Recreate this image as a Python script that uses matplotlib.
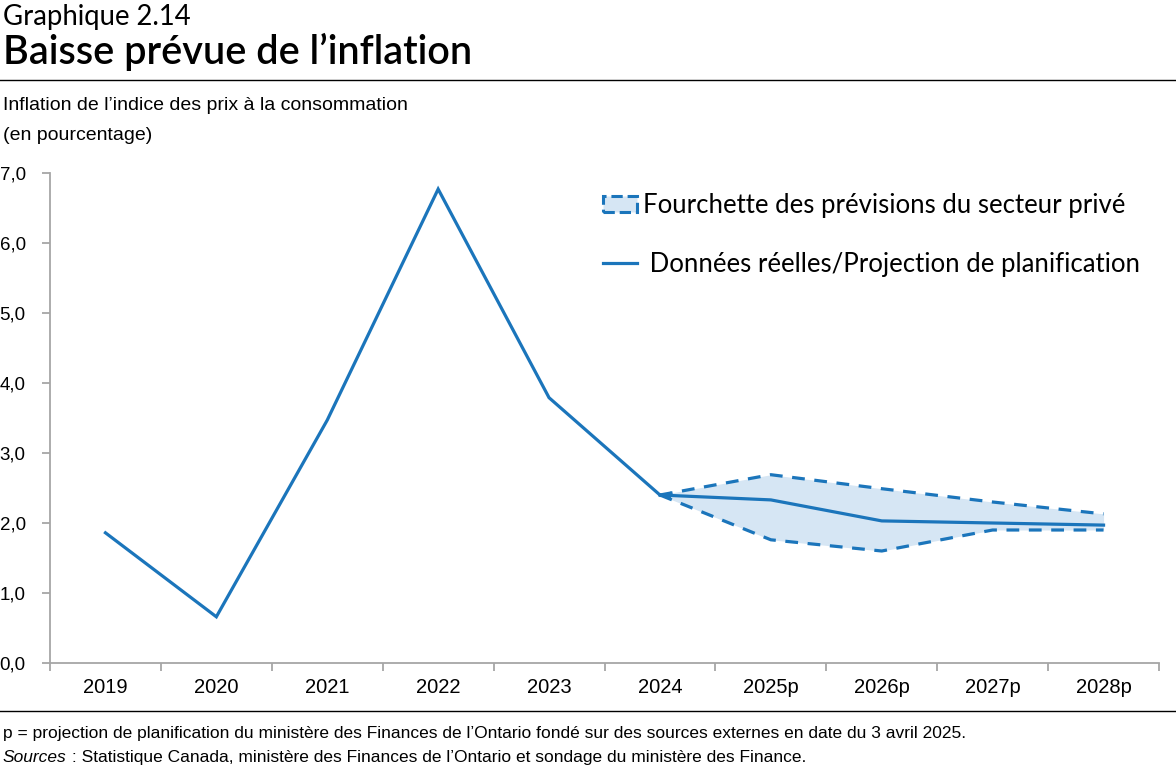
import matplotlib.pyplot as plt
from matplotlib.patches import Patch
from matplotlib.lines import Line2D

# données
annees = ['2019', '2020', '2021', '2022', '2023', '2024', '2025p', '2026p', '2027p', '2028p']
reel = [1.86, 0.66, 3.47, 6.77, 3.79, 2.4]
projection = [2.4, 2.33, 2.03, 2.0, 1.97]
haut = [2.4, 2.69, 2.49, 2.3, 2.13]
bas = [2.4, 1.76, 1.6, 1.9, 1.9]
yticks = [0, 1, 2, 3, 4, 5, 6, 7]

bleu = '#1b75bb'
gris = '#a6a6a6'
arial = ['Liberation Sans', 'DejaVu Sans']
titre_font = ['Lato', 'DejaVu Sans']

x = list(range(len(annees)))
x_reel = x[:len(reel)]
x_proj = x[len(reel) - 1:]

fig = plt.figure(figsize=(11.76, 7.69), dpi=100)
ax = fig.add_axes([50 / 1176, 1 - 663 / 769, 1109 / 1176, 490 / 769])

ax.fill_between(x_proj, bas, haut, color='#d6e6f4', lw=0)
ax.plot(x_proj, haut, color=bleu, lw=2.3, ls=(0, (4, 3)))
ax.plot(x_proj, bas, color=bleu, lw=2.3, ls=(0, (4, 3)))
ax.plot(x_reel, reel, color=bleu, lw=2.3, solid_joinstyle='miter')
ax.plot(x_proj, projection, color=bleu, lw=2.3)
ax.annotate('', xy=(x_proj[0], projection[0]), xytext=(x_proj[1], projection[1]),
            arrowprops=dict(arrowstyle='-|>', color=bleu, lw=0, mutation_scale=15))

ax.set_xlim(-0.5, len(annees) - 0.5)
ax.set_ylim(0, 7)
ax.set_yticks(yticks)
ax.set_yticklabels([f'{v:.1f}'.replace('.', ',') for v in yticks], family=arial, fontsize=13.5)
ax.set_xticks(x)
ax.set_xticklabels(annees, family=arial, fontsize=14.5)
ax.set_xticks([i - 0.5 for i in x] + [len(annees) - 0.5], minor=True)
ax.tick_params(axis='x', which='major', length=0, pad=10.5)
ax.tick_params(axis='x', which='minor', length=6, color=gris, width=1.3)
ax.tick_params(axis='y', length=6, color=gris, width=1.3, pad=11.5)
for s in ['top', 'right']:
    ax.spines[s].set_visible(False)
for s in ['left', 'bottom']:
    ax.spines[s].set_color(gris)
    ax.spines[s].set_linewidth(1.3)

handles = [Patch(facecolor='#d6e6f4', edgecolor=bleu, ls='--', lw=2.2),
           Line2D([], [], color=bleu, lw=2.3)]
labels = ['Fourchette des prévisions du secteur privé', ' Données réelles/Projection de planification']
leg = fig.legend(handles, labels, loc='upper left', bbox_to_anchor=(580 / 1176, 1 - 170 / 769),
                 frameon=False, prop={'family': titre_font, 'size': 18.5}, labelspacing=1.3,
                 handlelength=1.3, handleheight=0.55, handletextpad=0.25)

# textes
fig.text(3 / 1176, 1 - 17 / 769, 'Graphique 2.14', family=titre_font, fontsize=19.8, va='center')
fig.text(3 / 1176, 1 - 52 / 769, 'Baisse prévue de l’inflation', family=titre_font, fontsize=28.5,
         fontweight='semibold', va='center')
fig.add_artist(Line2D([0, 1], [1 - 80 / 769, 1 - 80 / 769], color='black', lw=1))
fig.text(3 / 1176, 1 - 106 / 769, 'Inflation de l’indice des prix à la consommation', family=arial,
         fontsize=14, va='center')
fig.text(3 / 1176, 1 - 136 / 769, '(en pourcentage)', family=arial, fontsize=14, va='center')
fig.add_artist(Line2D([0, 1], [1 - 711 / 769, 1 - 711 / 769], color='black', lw=1))
fig.text(3 / 1176, 1 - 738 / 769,
         'p = projection de planification du ministère des Finances de l’Ontario fondé sur des sources externes en date du 3 avril 2025.',
         family=arial, fontsize=12.5, va='baseline')
src = fig.text(3 / 1176, 1 - 762 / 769, 'Sources', family=arial, fontsize=12.5, va='baseline', style='italic')
fig.canvas.draw()
bb = src.get_window_extent()
fig.text(bb.x1 / 1176, 1 - 762 / 769,
         ' : Statistique Canada, ministère des Finances de l’Ontario et sondage du ministère des Finance.',
         family=arial, fontsize=12.5, va='baseline')

fig.savefig('out.png', dpi=100)
